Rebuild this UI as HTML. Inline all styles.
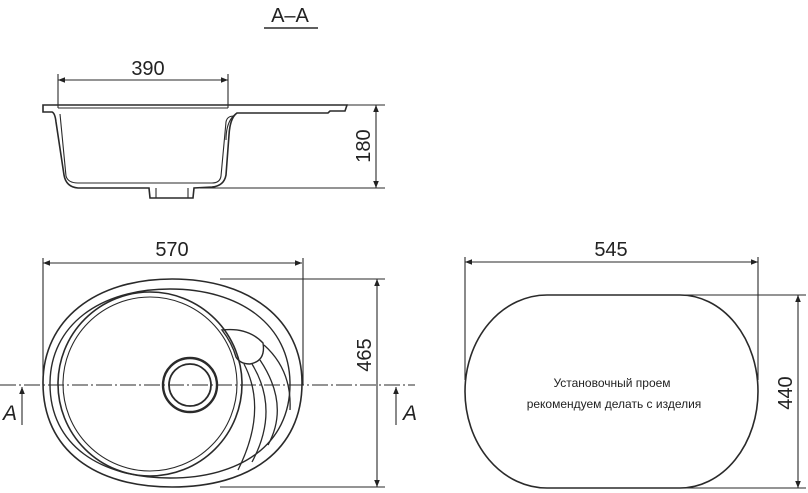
<!DOCTYPE html>
<html><head><meta charset="utf-8"><style>
html,body{margin:0;padding:0;background:#fff;}
svg{display:block;}
text{font-family:"Liberation Sans",sans-serif;fill:#222;}
</style></head><body>
<svg width="808" height="493" viewBox="0 0 808 493" xmlns="http://www.w3.org/2000/svg">
<defs>
<marker id="ar" viewBox="0 0 10 10" refX="10" refY="5" markerWidth="11" markerHeight="7" orient="auto-start-reverse" markerUnits="userSpaceOnUse">
<path d="M0,1 L10,5 L0,9 Z" fill="#222"/></marker>
</defs>
<g stroke="#2a2a2a" fill="none" stroke-width="1.5">
<text x="290" y="22" font-size="20" text-anchor="middle" stroke="none">A–A</text>
<line x1="264" y1="28" x2="318" y2="28" stroke-width="1.6"/>
<text x="148" y="75" font-size="20" text-anchor="middle" stroke="none">390</text>
<line x1="58" y1="80" x2="228" y2="80" marker-start="url(#ar)" marker-end="url(#ar)" stroke-width="1.1"/>
<line x1="58" y1="74" x2="58" y2="108" stroke-width="1.1"/>
<line x1="228" y1="74" x2="228" y2="108" stroke-width="1.1"/>
<path d="M43,105 L347,105 L345,111 L330,111 L328,113 L237,113 Q230,118 229,135 L226,175 Q224,186 212,187 L194,188 L193,198 L150,198 L149,188 L78,188 Q66,187 64,175 L56,122 Q55,113 52,112 L43,112 Z" stroke-width="1.6"/>
<path d="M60,114 L66,176 Q68,183 78,183 L212,183 Q220,183 221,176 L226,122 Q227,116 234,116" stroke-width="1.1"/>
<line x1="58" y1="108" x2="228" y2="108" stroke-width="1.1"/>
<path d="M237,113 Q226,120 226,140" stroke-width="1.1"/>
<line x1="156" y1="188" x2="156" y2="198" stroke-width="1.1"/>
<line x1="188" y1="188" x2="188" y2="198" stroke-width="1.1"/>
<line x1="345" y1="105" x2="385" y2="105" stroke-width="1.1"/>
<line x1="200" y1="188" x2="385" y2="188" stroke-width="1.1"/>
<line x1="376" y1="105" x2="376" y2="188" marker-start="url(#ar)" marker-end="url(#ar)" stroke-width="1.1"/>
<text transform="translate(370,146) rotate(-90)" font-size="20" text-anchor="middle" stroke="none">180</text>

<text x="172" y="256" font-size="20" text-anchor="middle" stroke="none">570</text>
<line x1="43" y1="263" x2="302" y2="263" marker-start="url(#ar)" marker-end="url(#ar)" stroke-width="1.1"/>
<line x1="43" y1="258" x2="43" y2="385" stroke-width="1.1"/>
<line x1="303" y1="258" x2="303" y2="385" stroke-width="1.1"/>
<path d="M172,279 C250,279 302,320 302,383 C302,450 250,487 172,487 C95,487 43,450 43,383 C43,320 95,279 172,279 Z" stroke-width="1.6"/>
<path d="M170,289 C240,289 290,325 290,384 C290,445 240,478 170,478 C100,478 50,445 50,384 C50,325 100,289 170,289 Z" stroke-width="1.4"/>
<circle cx="150" cy="384" r="92" stroke-width="1.6"/>
<circle cx="150" cy="384" r="87" stroke-width="1.1"/>
<circle cx="190" cy="385" r="27" stroke-width="2.4"/>
<circle cx="190" cy="385" r="21" stroke-width="1.8"/>
<path d="M222,330 Q248,327 263,343 Q266,361 250,364 Q240,364 236,357 Q232,343 222,330Z" stroke-width="1.4"/>
<path d="M244,364 Q268,410 238,470" stroke-width="1.3"/>
<path d="M252,364 Q280,410 252,462" stroke-width="1.3"/>
<path d="M260,360 Q290,405 268,445" stroke-width="1.3"/>
<path d="M264,345 Q292,370 290,410" stroke-width="1.3"/>
<line x1="0" y1="385" x2="415" y2="385" stroke-width="1" stroke-dasharray="16,3,2,3"/>
<line x1="22" y1="425" x2="22" y2="387" marker-end="url(#ar)" stroke-width="1.1"/>
<text x="10" y="420" font-size="21" font-style="italic" text-anchor="middle" stroke="none">A</text>
<line x1="396" y1="425" x2="396" y2="387" marker-end="url(#ar)" stroke-width="1.1"/>
<text x="410" y="420" font-size="21" font-style="italic" text-anchor="middle" stroke="none">A</text>
<line x1="220" y1="279" x2="385" y2="279" stroke-width="1.1"/>
<line x1="220" y1="487" x2="385" y2="487" stroke-width="1.1"/>
<line x1="377" y1="279" x2="377" y2="487" marker-start="url(#ar)" marker-end="url(#ar)" stroke-width="1.1"/>
<text transform="translate(371,355) rotate(-90)" font-size="20" text-anchor="middle" stroke="none">465</text>

<text x="611" y="256" font-size="20" text-anchor="middle" stroke="none">545</text>
<line x1="465" y1="262" x2="758" y2="262" marker-start="url(#ar)" marker-end="url(#ar)" stroke-width="1.1"/>
<line x1="465" y1="257" x2="465" y2="380" stroke-width="1.1"/>
<line x1="758" y1="257" x2="758" y2="380" stroke-width="1.1"/>
<path d="M547,295 L680,295 A78,96.5 0 0 1 680,488 L547,488 A82,96.5 0 0 1 547,295 Z" stroke-width="1.6"/>
<line x1="680" y1="295" x2="806" y2="295" stroke-width="1.1"/>
<line x1="547" y1="488" x2="806" y2="488" stroke-width="1.1"/>
<line x1="798" y1="295" x2="798" y2="488" marker-start="url(#ar)" marker-end="url(#ar)" stroke-width="1.1"/>
<text transform="translate(792,393) rotate(-90)" font-size="20" text-anchor="middle" stroke="none">440</text>
<text x="612" y="387" font-size="12" text-anchor="middle" stroke="none">Установочный проем</text>
<text x="614" y="408" font-size="12" text-anchor="middle" stroke="none">рекомендуем делать с изделия</text>
</g>
</svg>
</body></html>
